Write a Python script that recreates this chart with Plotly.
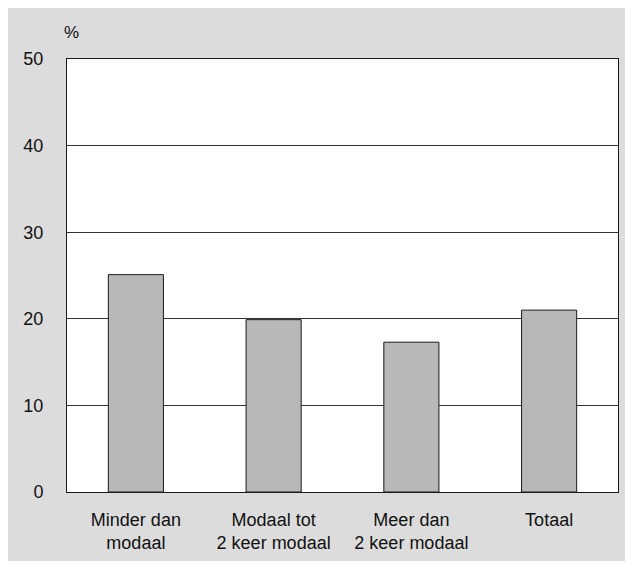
import plotly.graph_objects as go

categories = ["Minder dan<br>modaal", "Modaal tot<br>2 keer modaal", "Meer dan<br>2 keer modaal", "Totaal"]
values = [25.1, 19.9, 17.3, 21.0]
y_ticks = [0, 10, 20, 30, 40, 50]

# page body has an 8px margin, so the figure starts at (8, 8)
W, H = 633, 561
L, R, T, B = 59, 23, 51, 77
pw, ph = W - L - R, H - T - B

fig = go.Figure(go.Bar(
    x=categories, y=values,
    marker=dict(color="#b8b8b8", line=dict(color="#1a1a1a", width=1)),
    width=0.4,
))

fam = "Liberation Sans, Arial, sans-serif"
xfont = dict(family=fam, size=18, color="#111111")
yfont = dict(family=fam, size=18, color="#111111")

fig.update_layout(
    width=W, height=H,
    margin=dict(l=L, r=R, t=T, b=B),
    paper_bgcolor="#dcdcdc",
    plot_bgcolor="white",
    font=xfont,
    showlegend=False,
    bargap=0.6,
    xaxis=dict(showgrid=False, showline=True, linecolor="#1a1a1a", linewidth=1,
               mirror=True, ticks="", ticklabelstandoff=11, tickfont=xfont),
    yaxis=dict(range=[0, 50], tickvals=y_ticks, showgrid=True, gridcolor="#333333",
               gridwidth=1, showline=True, linecolor="#1a1a1a", linewidth=1, mirror=True,
               ticks="", ticklabelstandoff=19, zeroline=False, tickfont=yfont),
    annotations=[dict(text="%", xref="paper", yref="paper",
                      x=(54 - L) / pw, y=1 + (T - 25) / ph, xanchor="left", yanchor="middle",
                      showarrow=False, font=dict(family=fam, size=17, color="#111111"))],
)

fig.write_html(
    "out.html",
    post_script="document.documentElement.style.overflow='hidden';document.body.style.overflow='hidden';",
)
